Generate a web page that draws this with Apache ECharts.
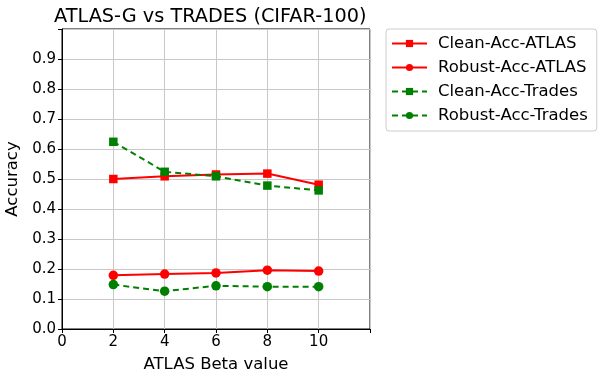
<!DOCTYPE html>
<html>
<head>
<meta charset="utf-8">
<script src="https://cdn.jsdelivr.net/npm/echarts@6/dist/echarts.min.js"></script>
<style>
  html, body { margin: 0; padding: 0; background: #fff; }
  #chart { width: 609px; height: 382px; }
</style>
</head>
<body>
<div id="chart"></div>
<script>
var betas = [2, 4, 6, 8, 10];
var cleanAtlas = [0.500, 0.509, 0.515, 0.518, 0.481];
var robustAtlas = [0.179, 0.183, 0.187, 0.196, 0.193];
var cleanTrades = [0.624, 0.524, 0.509, 0.478, 0.462];
var robustTrades = [0.148, 0.126, 0.144, 0.141, 0.141];

var font = 'DejaVu Sans';
var myChart = echarts.init(document.getElementById('chart'));

function pairs(vals) {
    return betas.map(function(b, i) { return [b, vals[i]]; });
}

function makeSeries(name, vals, color, symbol, dashed) {
    return {
        name: name,
        type: 'line',
        data: pairs(vals),
        symbol: symbol,
        symbolSize: symbol === 'rect' ? 8.5 : 9.5,
        itemStyle: { color: color },
        lineStyle: { color: color, width: 2, type: dashed ? [6, 4] : 'solid' },
        animation: false
    };
}

var option = {
    backgroundColor: '#fff',
    title: {
        text: 'ATLAS-G vs TRADES (CIFAR-100)',
        left: 49,
        top: 2,
        textStyle: { fontFamily: font, fontSize: 19.3, fontWeight: 'normal', color: '#000' }
    },
    grid: {
        left: 62, right: 239, top: 29, bottom: 53,
        outerBoundsMode: 'none',
        containLabel: false,
        show: true, borderColor: '#000', borderWidth: 1
    },
    legend: {
        orient: 'vertical',
        left: 386, top: 29,
        padding: [6, 9, 7, 5],
        borderColor: '#ccc', borderWidth: 1, borderRadius: 3,
        itemWidth: 35, itemHeight: 9, itemGap: 7,
        textStyle: { fontFamily: font, fontSize: 16.5, lineHeight: 17, color: '#000', padding: [0, 0, 0, 6] },
        data: ['Clean-Acc-ATLAS', 'Robust-Acc-ATLAS', 'Clean-Acc-Trades', 'Robust-Acc-Trades']
    },
    xAxis: {
        type: 'value',
        min: 0, max: 12, interval: 2,
        name: 'ATLAS Beta value',
        nameLocation: 'middle',
        nameGap: 27,
        nameTextStyle: { fontFamily: font, fontSize: 16.5, color: '#000' },
        axisLine: { show: true, lineStyle: { color: '#000' } },
        axisTick: { show: true, length: 4, lineStyle: { color: '#000' } },
        axisLabel: {
            fontFamily: font, fontSize: 15, color: '#000', margin: 6,
            formatter: function(v) { return v === 12 ? '' : v; }
        },
        splitLine: { show: true, lineStyle: { color: '#c8c8c8', width: 1 } }
    },
    yAxis: {
        type: 'value',
        min: 0, max: 1, interval: 0.1,
        name: 'Accuracy',
        nameLocation: 'middle',
        nameGap: 35,
        nameTextStyle: { fontFamily: font, fontSize: 16.5, color: '#000' },
        axisLine: { show: true, lineStyle: { color: '#000' } },
        axisTick: { show: true, length: 4, lineStyle: { color: '#000' } },
        axisLabel: {
            fontFamily: font, fontSize: 15, color: '#000', margin: 6,
            formatter: function(v) { return v >= 1 ? '' : v.toFixed(1); }
        },
        splitLine: { show: true, lineStyle: { color: '#c8c8c8', width: 1 } }
    },
    series: [
        makeSeries('Clean-Acc-ATLAS', cleanAtlas, '#ff0000', 'rect', false),
        makeSeries('Robust-Acc-ATLAS', robustAtlas, '#ff0000', 'circle', false),
        makeSeries('Clean-Acc-Trades', cleanTrades, '#008000', 'rect', true),
        makeSeries('Robust-Acc-Trades', robustTrades, '#008000', 'circle', true)
    ]
};

myChart.setOption(option);
</script>
</body>
</html>
